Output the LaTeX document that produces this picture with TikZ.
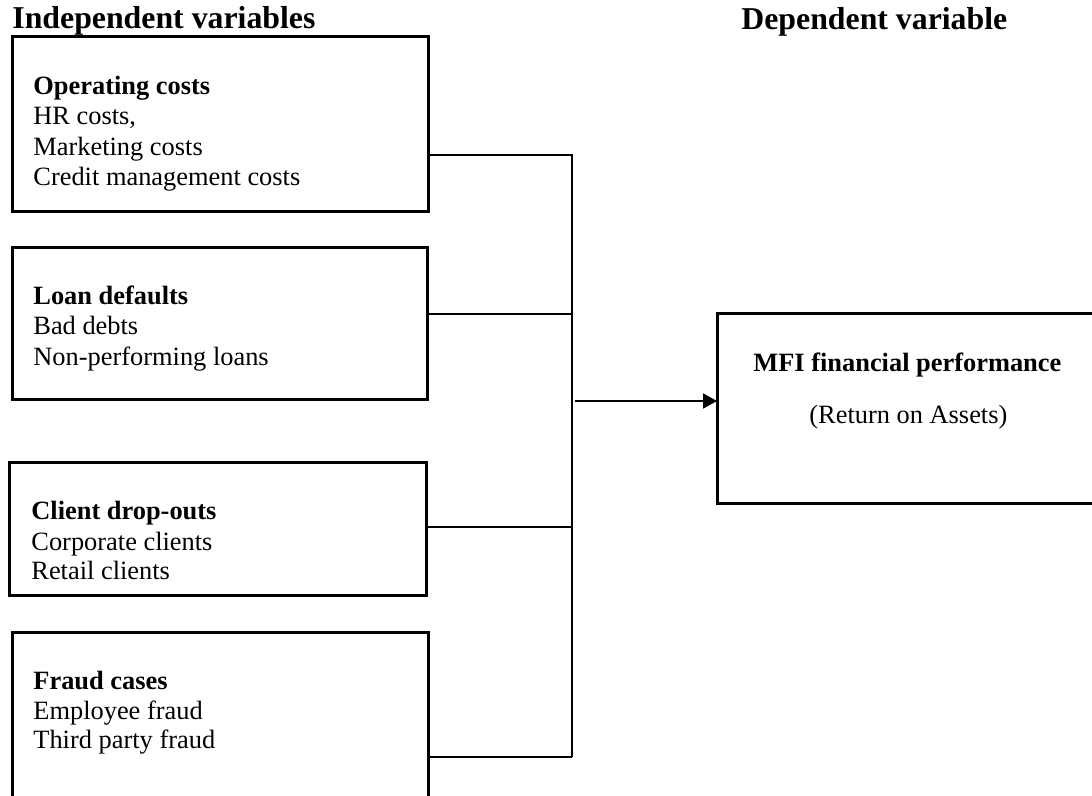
\documentclass[tikz,border=0pt]{standalone}
\usepackage{fontspec}
\setmainfont{Liberation Serif}
\usetikzlibrary{arrows.meta}
\begin{document}
\begin{tikzpicture}[x=0.5pt,y=-0.5pt,
  box/.style={draw,line width=1.5pt,inner sep=0pt,outer sep=0pt,anchor=north west},
  txt/.style={anchor=base west,inner sep=0pt,font=\fontsize{13.2}{15.5}\selectfont},
  head/.style={anchor=base west,inner sep=0pt,font=\fontsize{15.9}{19}\selectfont\bfseries},
  conn/.style={line width=1pt},
  arr/.style={line width=1pt,-{Triangle[length=7pt,width=7.5pt]}}]
\clip (0,0) rectangle (1092,796);
\fill[white] (0,0) rectangle (1092,796);
% headings
\node[head] (hind) at (12,29) {Independent variables};
\node[head] (hdep) at (741,30) {Dependent variable};
% boxes
\node[box,minimum width=208pt,minimum height=87.5pt] (b1) at (12,37) {};
\node[box,minimum width=207.5pt,minimum height=76pt] (b2) at (12,248) {};
\node[box,minimum width=208.5pt,minimum height=66.5pt] (b3) at (9,462) {};
\node[box,minimum width=208pt,minimum height=99pt] (b4) at (12,632) {};
\node[box,minimum width=201.5pt,minimum height=94.5pt] (mfi) at (717,314) {};
% box texts
\node[txt,font=\fontsize{13.2}{15.5}\selectfont\bfseries] (t1a) at (33,95) {Operating costs};
\node[txt] (t1b) at (33,125) {HR costs,};
\node[txt] (t1c) at (33,156) {Marketing costs};
\node[txt] (t1d) at (33,186) {Credit management costs};
\node[txt,font=\fontsize{13.2}{15.5}\selectfont\bfseries] (t2a) at (33,305) {Loan defaults};
\node[txt] (t2b) at (33,335) {Bad debts};
\node[txt] (t2c) at (33,366) {Non-performing loans};
\node[txt,font=\fontsize{13.2}{15.5}\selectfont\bfseries] (t3a) at (31,519) {Client drop-outs};
\node[txt] (t3b) at (31,550) {Corporate clients};
\node[txt] (t3c) at (31,579) {Retail clients};
\node[txt,font=\fontsize{13.2}{15.5}\selectfont\bfseries] (t4a) at (33,689) {Fraud cases};
\node[txt] (t4b) at (33,719) {Employee fraud};
\node[txt] (t4c) at (33,748) {Third party fraud};
\node[txt,font=\fontsize{13.2}{15.5}\selectfont\bfseries] (tma) at (753,372) {MFI financial performance};
\node[txt] (tmb) at (809,423) {(Return on Assets)};
% junction coordinates
\coordinate (j1) at (573,155);
\coordinate (j2) at (572,314);
\coordinate (j3) at (572,527);
\coordinate (j4) at (572,757);
\coordinate (ja) at (575,401);
% connectors
\draw[conn] (b1.east |- j1) -- (j1);
\draw[conn] (b2.east |- j2) -- (j2);
\draw[conn] (b3.east |- j3) -- (j3);
\draw[conn] (b4.east |- j4) -- (j4);
\draw[conn] (572,155) -- (j4);
\draw[arr] (ja) -- (mfi.west |- ja);
\end{tikzpicture}
\end{document}
